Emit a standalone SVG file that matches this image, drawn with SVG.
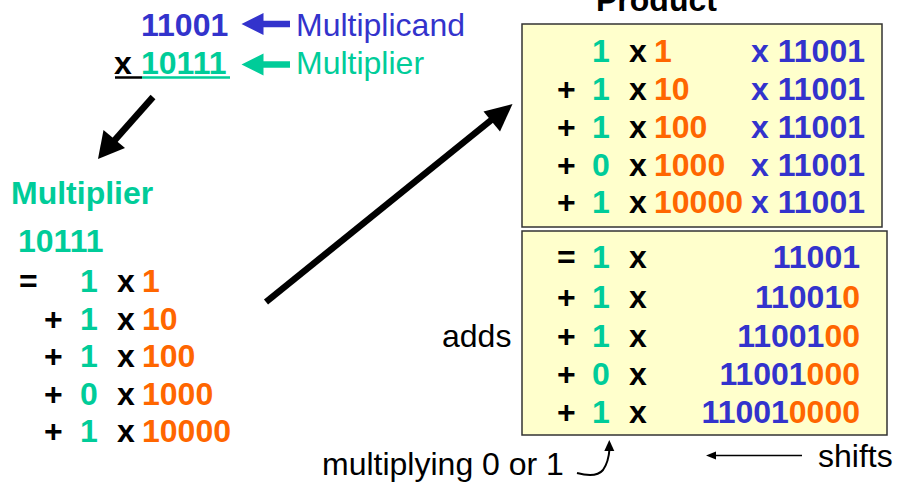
<svg xmlns="http://www.w3.org/2000/svg" width="897" height="485" viewBox="0 0 897 485">
  <style>
    text { font-family: "Liberation Sans", Arial, sans-serif; }
    .b { font-weight: bold; font-size: 32px; }
    .r { font-size: 32px; }
    .k { fill: #000000; }
    .bl { fill: #3333CC; }
    .gr { fill: #00CC99; }
    .or { fill: #FF6600; }
    .box { fill: #FFFFCC; stroke: #333333; stroke-width: 1.5; }
  </style>
  <rect width="897" height="485" fill="#ffffff"/>

  <!-- long-hand multiplication at the top -->
  <g id="operands">
    <text class="b bl" x="141" y="36">11001</text>
    <text class="r bl" x="296" y="36">Multiplicand</text>
    <text class="b k" x="114" y="74">x</text>
    <text class="b gr" x="141" y="74">10111</text>
    <text class="r gr" x="296" y="74">Multiplier</text>
    <line x1="115" y1="77.5" x2="142" y2="77.5" stroke="#000" stroke-width="2.5"/>
    <line x1="142" y1="77.5" x2="230" y2="77.5" stroke="#00CC99" stroke-width="2.5"/>
  </g>

  <!-- multiplier expanded into powers of ten -->
  <g id="multiplier-expansion">
    <text class="b gr" x="11" y="204">Multiplier</text>
    <text class="b gr" x="18" y="252">10111</text>
    <text class="b" x="19" y="292"><tspan class="k">=</tspan><tspan class="gr" x="80">1</tspan><tspan class="k" x="117">x</tspan><tspan class="or" x="142">1</tspan></text>
    <text class="b" x="44" y="330"><tspan class="k">+</tspan><tspan class="gr" x="80">1</tspan><tspan class="k" x="117">x</tspan><tspan class="or" x="142">10</tspan></text>
    <text class="b" x="44" y="367"><tspan class="k">+</tspan><tspan class="gr" x="80">1</tspan><tspan class="k" x="117">x</tspan><tspan class="or" x="142">100</tspan></text>
    <text class="b" x="44" y="405"><tspan class="k">+</tspan><tspan class="gr" x="80">0</tspan><tspan class="k" x="117">x</tspan><tspan class="or" x="142">1000</tspan></text>
    <text class="b" x="44" y="442"><tspan class="k">+</tspan><tspan class="gr" x="80">1</tspan><tspan class="k" x="117">x</tspan><tspan class="or" x="142">10000</tspan></text>
  </g>

  <!-- product as a sum of terms -->
  <g id="product-terms">
    <text class="b k" x="596" y="11">Product</text>
    <rect class="box" x="522" y="24" width="360" height="203"/>
    <text class="b" y="62"><tspan class="gr" x="592">1</tspan><tspan class="k" x="629">x</tspan><tspan class="or" x="654">1</tspan></text>
    <text class="b bl" x="865" y="62" text-anchor="end">x 11001</text>
    <text class="b" y="100"><tspan class="k" x="557">+</tspan><tspan class="gr" x="592">1</tspan><tspan class="k" x="629">x</tspan><tspan class="or" x="654">10</tspan></text>
    <text class="b bl" x="865" y="100" text-anchor="end">x 11001</text>
    <text class="b" y="138"><tspan class="k" x="557">+</tspan><tspan class="gr" x="592">1</tspan><tspan class="k" x="629">x</tspan><tspan class="or" x="654">100</tspan></text>
    <text class="b bl" x="865" y="138" text-anchor="end">x 11001</text>
    <text class="b" y="176"><tspan class="k" x="557">+</tspan><tspan class="gr" x="592">0</tspan><tspan class="k" x="629">x</tspan><tspan class="or" x="654">1000</tspan></text>
    <text class="b bl" x="865" y="176" text-anchor="end">x 11001</text>
    <text class="b" y="213"><tspan class="k" x="557">+</tspan><tspan class="gr" x="592">1</tspan><tspan class="k" x="629">x</tspan><tspan class="or" x="654">10000</tspan></text>
    <text class="b bl" x="865" y="213" text-anchor="end">x 11001</text>
  </g>

  <!-- shifted partial products -->
  <g id="partial-products">
    <rect class="box" x="522" y="231" width="365" height="204"/>
    <text class="b" y="268"><tspan class="k" x="557">=</tspan><tspan class="gr" x="592">1</tspan><tspan class="k" x="629">x</tspan></text>
    <text class="b bl" x="860" y="268" text-anchor="end">11001</text>
    <text class="b" y="308"><tspan class="k" x="557">+</tspan><tspan class="gr" x="592">1</tspan><tspan class="k" x="629">x</tspan></text>
    <text class="b bl" x="860" y="308" text-anchor="end">11001<tspan class="or">0</tspan></text>
    <text class="b" y="347"><tspan class="k" x="557">+</tspan><tspan class="gr" x="592">1</tspan><tspan class="k" x="629">x</tspan></text>
    <text class="b bl" x="860" y="347" text-anchor="end">11001<tspan class="or">00</tspan></text>
    <text class="b" y="385"><tspan class="k" x="557">+</tspan><tspan class="gr" x="592">0</tspan><tspan class="k" x="629">x</tspan></text>
    <text class="b bl" x="860" y="385" text-anchor="end">11001<tspan class="or">000</tspan></text>
    <text class="b" y="423"><tspan class="k" x="557">+</tspan><tspan class="gr" x="592">1</tspan><tspan class="k" x="629">x</tspan></text>
    <text class="b bl" x="860" y="423" text-anchor="end">11001<tspan class="or">0000</tspan></text>
  </g>

  <!-- annotations -->
  <g id="notes">
    <text class="r k" x="442" y="347">adds</text>
    <text class="r k" x="322" y="475">multiplying 0 or 1</text>
    <text class="r k" x="818" y="467">shifts</text>
  </g>

  <g id="connectors">
    <!-- label pointers -->
    <line x1="290" y1="24" x2="260" y2="24" stroke="#3333CC" stroke-width="6.5"/>
    <polygon points="241.5,24 263.5,13 263.5,35" fill="#3333CC"/>
    <line x1="290" y1="64.5" x2="260" y2="64.5" stroke="#00CC99" stroke-width="6.5"/>
    <polygon points="241.5,64.5 263.5,53.5 263.5,75.5" fill="#00CC99"/>
    <!-- multiplier moved down -->
    <line x1="153" y1="97" x2="114" y2="141" stroke="#000" stroke-width="6.5"/>
    <polygon points="98,159 103.5,130 125,148" fill="#000"/>
    <!-- expansion feeds the product -->
    <line x1="266" y1="302" x2="495" y2="117" stroke="#000" stroke-width="6.5"/>
    <polygon points="512.5,104 483.5,111.5 500,131.5" fill="#000"/>
    <!-- curved pointer to the 0/1 column -->
    <path d="M577,473 C588,476 598,476 603,470 C608,463 609,456 609.5,449" fill="none" stroke="#000" stroke-width="2"/>
    <polygon points="609.3,440 604.3,451 614.3,451" fill="#000"/>
    <!-- shift direction -->
    <line x1="802" y1="455.5" x2="714" y2="455.5" stroke="#000" stroke-width="1.5"/>
    <polygon points="706,455.5 716,451.5 716,459.5" fill="#000"/>
  </g>
</svg>
